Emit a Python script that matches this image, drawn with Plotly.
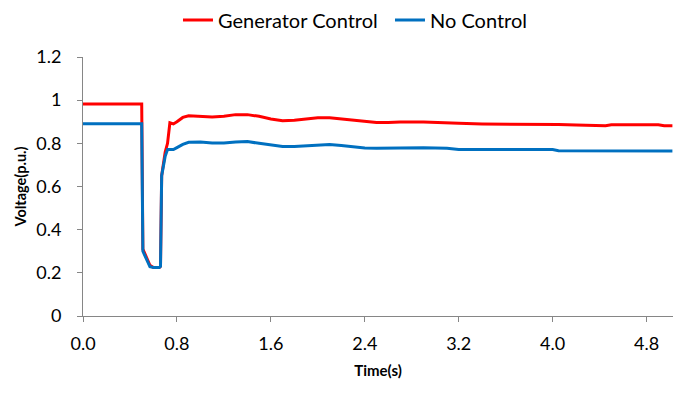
import plotly.graph_objects as go

# Data
time_s = [0.00, 0.50, 0.51, 0.54, 0.57, 0.60, 0.65, 0.66, 0.67, 0.70, 0.72, 0.74,
          0.77, 0.80, 0.85, 0.90, 1.00, 1.10, 1.20, 1.30, 1.40, 1.50, 1.60, 1.70,
          1.80, 1.90, 2.00, 2.10, 2.20, 2.30, 2.40, 2.50, 2.60, 2.70, 2.90, 3.10,
          3.20, 3.40, 3.60, 3.80, 4.00, 4.05, 4.20, 4.35, 4.45, 4.50, 4.90, 4.95, 5.02]

generator_control = [0.982, 0.982, 0.31, 0.27, 0.235, 0.225, 0.225, 0.23, 0.65, 0.76, 0.80, 0.895,
                     0.89, 0.90, 0.92, 0.928, 0.925, 0.922, 0.925, 0.933, 0.933, 0.925, 0.913, 0.905,
                     0.907, 0.912, 0.918, 0.918, 0.912, 0.906, 0.900, 0.896, 0.896, 0.899, 0.899, 0.897,
                     0.893, 0.890, 0.890, 0.890, 0.890, 0.887, 0.885, 0.882, 0.882, 0.886, 0.886, 0.881, 0.881]

no_control = [0.891, 0.891, 0.30, 0.26, 0.228, 0.225, 0.225, 0.23, 0.65, 0.74, 0.771, 0.771,
              0.771, 0.780, 0.795, 0.805, 0.806, 0.802, 0.802, 0.806, 0.808, 0.800, 0.792, 0.785,
              0.785, 0.789, 0.794, 0.795, 0.790, 0.784, 0.778, 0.777, 0.778, 0.780, 0.780, 0.777,
              0.772, 0.771, 0.771, 0.771, 0.771, 0.766, 0.766, 0.765, 0.765, 0.765, 0.765, 0.765, 0.765]

x_ticks = [0.0, 0.8, 1.6, 2.4, 3.2, 4.0, 4.8]
y_ticks = [0, 0.2, 0.4, 0.6, 0.8, 1.0, 1.2]
y_tick_text = ["0", "0.2", "0.4", "0.6", "0.8", "1", "1.2"]

FONT = "Lato"
AXIS_COLOR = "#868686"

fig = go.Figure()
fig.add_trace(go.Scatter(x=time_s, y=generator_control, mode="lines", name="Generator Control",
                         line=dict(color="#FF0000", width=3)))
fig.add_trace(go.Scatter(x=time_s, y=no_control, mode="lines", name="No Control",
                         line=dict(color="#0070C0", width=3)))

# the page places the figure at an 8px offset, so the figure is 8px smaller
fig.update_layout(
    width=691, height=385,
    margin=dict(l=75, r=26, t=49, b=77, autoexpand=False),
    paper_bgcolor="white", plot_bgcolor="white",
    font=dict(family=FONT, size=18, color="#000000"),
    legend=dict(orientation="h", x=0.161, xanchor="left", y=0.969, yanchor="middle",
                yref="container", font=dict(size=20), itemwidth=30,
                entrywidth=167, entrywidthmode="pixels", tracegroupgap=0),
    showlegend=True,
)
fig.update_xaxes(
    range=[0, 5.025], tickvals=x_ticks, tickformat=".1f", automargin=False,
    showgrid=False, zeroline=False, showline=True, linecolor=AXIS_COLOR, linewidth=1,
    ticks="outside", ticklen=5, tickcolor=AXIS_COLOR, ticklabelstandoff=6,
    title=dict(text="<b>Time(s)</b>", font=dict(size=15), standoff=12),
)
fig.update_yaxes(
    range=[0, 1.2], tickvals=y_ticks, ticktext=y_tick_text, automargin=False,
    showgrid=False, zeroline=False, showline=True, linecolor=AXIS_COLOR, linewidth=1,
    ticks="outside", ticklen=5, tickcolor=AXIS_COLOR, ticklabelstandoff=12,
    title=dict(text="<b>Voltage(p.u.)</b>", font=dict(size=14.5), standoff=6),
)

fig.write_html("out.html")
